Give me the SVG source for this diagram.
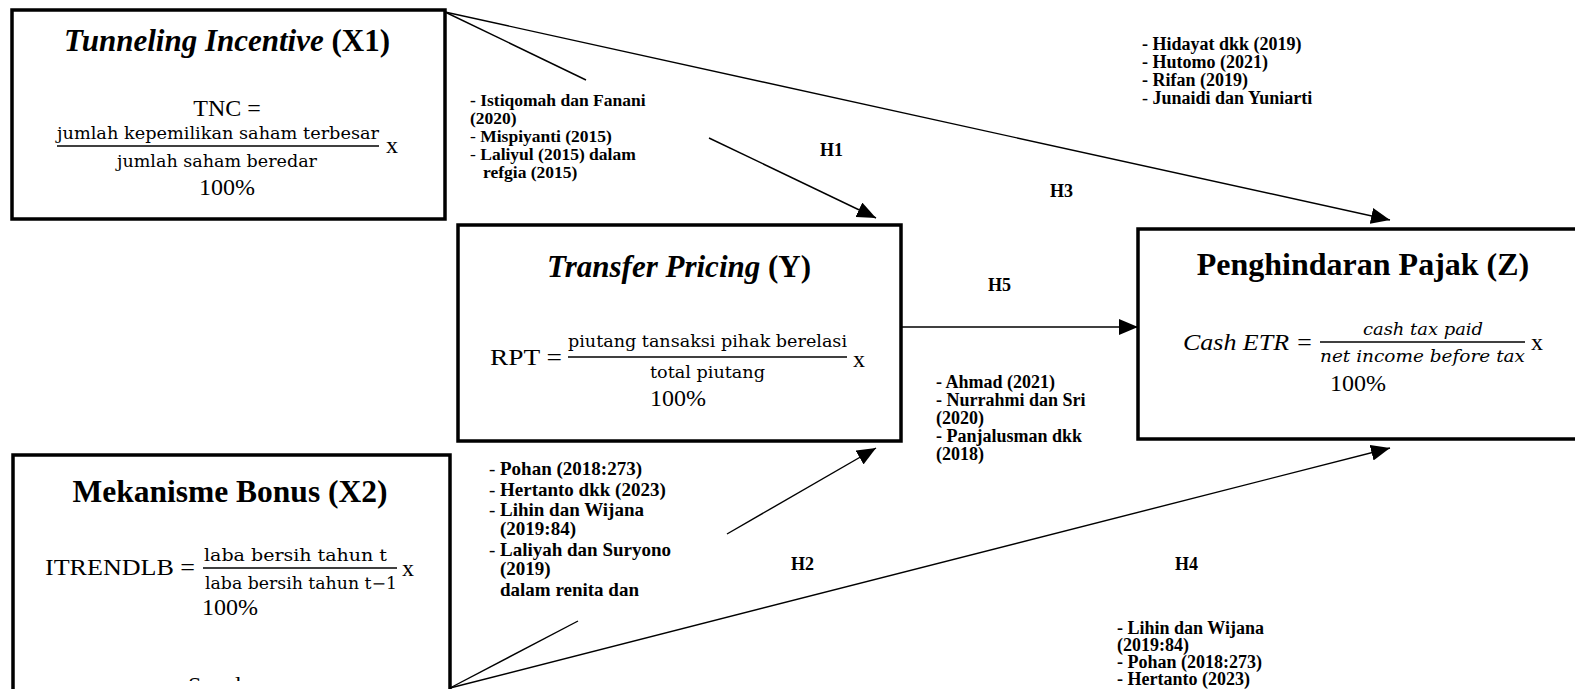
<svg xmlns="http://www.w3.org/2000/svg" width="1575" height="689" viewBox="0 0 1575 689">
<style>
.box{fill:#fff;stroke:#000;stroke-width:3.5}
.title{font-family:"Liberation Serif",serif;font-size:31px;font-weight:bold;text-anchor:middle}
.it{font-style:italic}
.f{font-family:"Liberation Serif",serif;font-size:24px}
.m{font-family:"DejaVu Serif",serif;font-size:16px}
.ref{font-family:"Liberation Serif",serif;font-size:18px;font-weight:bold}
.a{font-size:17.5px}
.d{font-size:19px}
.n{font-weight:normal}
.fl{stroke:#000;stroke-width:1.5}
.c{stroke:#000;stroke-width:1.4;fill:none}
</style>
<defs>
<marker id="ah" markerWidth="20" markerHeight="16" refX="19" refY="8" orient="auto" markerUnits="userSpaceOnUse">
<path d="M0,0 L19,8 L0,16 Z" fill="#000"/>
</marker>
<clipPath id="cut"><rect x="0" y="0" width="1575" height="681"/></clipPath>
</defs>

<g id="connectors">
<line class="c" x1="445" y1="12" x2="586" y2="80"/>
<line class="c" x1="709" y1="138" x2="876" y2="218" marker-end="url(#ah)"/>
<line class="c" x1="445" y1="12" x2="1390" y2="220" marker-end="url(#ah)"/>
<line class="c" x1="901" y1="327" x2="1138" y2="327" marker-end="url(#ah)"/>
<line class="c" x1="450" y1="688" x2="578" y2="621"/>
<line class="c" x1="727" y1="534" x2="876" y2="448" marker-end="url(#ah)"/>
<line class="c" x1="450" y1="688" x2="1390" y2="448" marker-end="url(#ah)"/>
</g>

<g id="node-x1">
<rect class="box" x="12" y="10" width="433" height="209"/>
<text class="title" x="227" y="51"><tspan class="it">Tunneling Incentive</tspan> (X1)</text>
<text class="f" x="227" y="116" text-anchor="middle">TNC =</text>
<text class="m" x="57" y="139" textLength="322" lengthAdjust="spacingAndGlyphs">jumlah kepemilikan saham terbesar</text>
<line class="fl" x1="57" y1="146" x2="379" y2="146"/>
<text class="f" x="386" y="153">x</text>
<text class="m" x="117" y="167" textLength="200" lengthAdjust="spacingAndGlyphs">jumlah saham beredar</text>
<text class="f" x="227" y="195" text-anchor="middle">100%</text>
</g>

<g id="node-y">
<rect class="box" x="458" y="225" width="443" height="216"/>
<text class="title" x="679" y="277"><tspan class="it">Transfer Pricing</tspan> (Y)</text>
<text class="f" x="490" y="365" textLength="72" lengthAdjust="spacingAndGlyphs">RPT =</text>
<text class="m" x="568" y="347" textLength="279" lengthAdjust="spacingAndGlyphs">piutang tansaksi pihak berelasi</text>
<line class="fl" x1="568" y1="357" x2="847" y2="357"/>
<text class="f" x="853" y="367">x</text>
<text class="m" x="650" y="378" textLength="115" lengthAdjust="spacingAndGlyphs">total piutang</text>
<text class="f" x="650" y="406">100%</text>
</g>

<g id="node-z">
<rect class="box" x="1138" y="229" width="460" height="210"/>
<text class="title" x="1363" y="275" style="font-size:32px">Penghindaran Pajak (Z)</text>
<text class="f it" x="1183" y="350" textLength="130" lengthAdjust="spacingAndGlyphs">Cash ETR =</text>
<text class="m it" x="1363" y="335" textLength="120" lengthAdjust="spacingAndGlyphs">cash tax paid</text>
<line class="fl" x1="1320" y1="342" x2="1525" y2="342"/>
<text class="f" x="1531" y="350">x</text>
<text class="m it" x="1320" y="362" textLength="205" lengthAdjust="spacingAndGlyphs">net income before tax</text>
<text class="f" x="1330" y="391">100%</text>
</g>

<g id="node-x2">
<rect class="box" x="13" y="455" width="437" height="260"/>
<text class="title" x="230" y="502" style="font-size:31.5px">Mekanisme Bonus (X2)</text>
<text class="f" x="45" y="575" textLength="150" lengthAdjust="spacingAndGlyphs">ITRENDLB =</text>
<text class="m" x="204" y="561" textLength="183" lengthAdjust="spacingAndGlyphs">laba bersih tahun t</text>
<line class="fl" x1="203" y1="568" x2="397" y2="568"/>
<text class="f" x="402" y="576">x</text>
<text class="m" x="205" y="589" textLength="192" lengthAdjust="spacingAndGlyphs">laba bersih tahun t−1</text>
<text class="f" x="202" y="615">100%</text>
<text class="f" x="188" y="693" clip-path="url(#cut)">S<tspan x="235">l</tspan></text>
</g>

<g id="labels">
<text class="ref a" x="470" y="106">- Istiqomah dan Fanani</text>
<text class="ref a" x="470" y="124">(2020)</text>
<text class="ref a" x="470" y="142"><tspan class="n">-</tspan> Mispiyanti (2015)</text>
<text class="ref a" x="470" y="160"><tspan class="n">-</tspan> Laliyul (2015) dalam</text>
<text class="ref a" x="483" y="178">refgia (2015)</text>
<text class="ref" x="820" y="156">H1</text>

<text class="ref" x="1142" y="50">- Hidayat dkk (2019)</text>
<text class="ref" x="1142" y="68">- Hutomo (2021)</text>
<text class="ref" x="1142" y="86">- Rifan (2019)</text>
<text class="ref" x="1142" y="104"><tspan class="n">-</tspan> Junaidi dan Yuniarti</text>
<text class="ref" x="1050" y="197">H3</text>

<text class="ref" x="988" y="291">H5</text>
<text class="ref" x="936" y="388">- Ahmad (2021)</text>
<text class="ref" x="936" y="406">- Nurrahmi dan Sri</text>
<text class="ref" x="936" y="424">(2020)</text>
<text class="ref" x="936" y="442">- Panjalusman dkk</text>
<text class="ref" x="936" y="460">(2018)</text>

<text class="ref d" x="489" y="475"><tspan class="n">-</tspan><tspan x="500">Pohan (2018:273)</tspan></text>
<text class="ref d" x="489" y="496"><tspan class="n">-</tspan><tspan x="500">Hertanto dkk (2023)</tspan></text>
<text class="ref d" x="489" y="516"><tspan class="n">-</tspan><tspan x="500">Lihin dan Wijana</tspan></text>
<text class="ref d" x="500" y="535">(2019:84)</text>
<text class="ref d" x="489" y="556"><tspan class="n">-</tspan><tspan x="500">Laliyah dan Suryono</tspan></text>
<text class="ref d" x="500" y="575">(2019)</text>
<text class="ref d" x="500" y="596">dalam renita dan</text>
<text class="ref" x="791" y="570">H2</text>

<text class="ref" x="1175" y="570">H4</text>
<text class="ref" x="1117" y="634">- Lihin dan Wijana</text>
<text class="ref" x="1117" y="651">(2019:84)</text>
<text class="ref" x="1117" y="668">- Pohan (2018:273)</text>
<text class="ref" x="1117" y="685">- Hertanto (2023)</text>
</g>
</svg>
